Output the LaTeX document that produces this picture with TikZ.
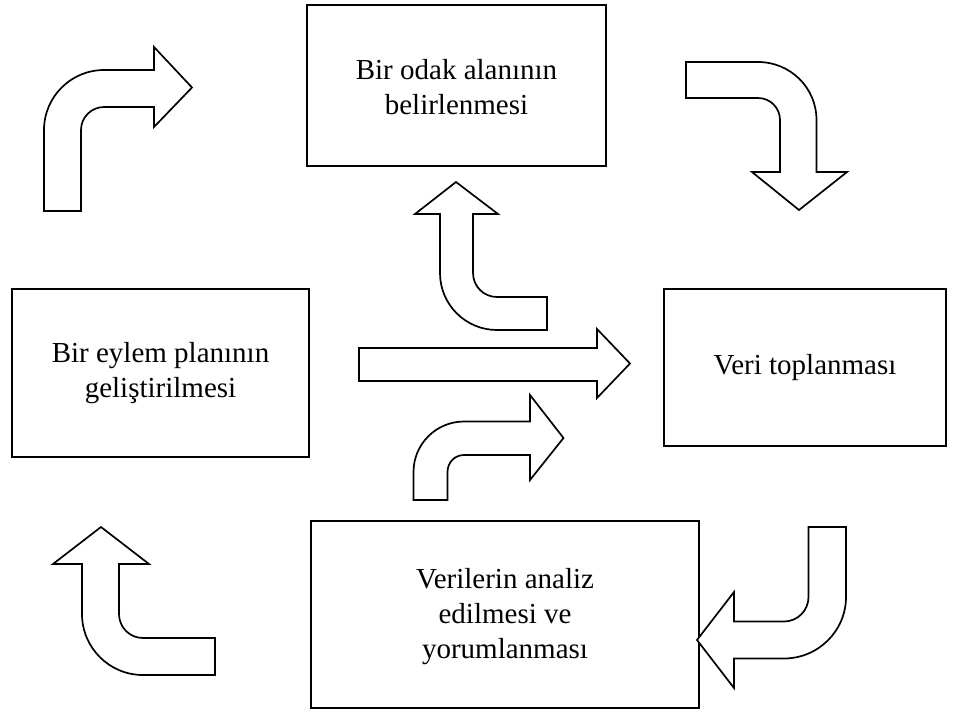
\documentclass[tikz,border=0pt]{standalone}
\usepackage{fontspec}
\setmainfont{Liberation Serif}
\begin{document}
\begin{tikzpicture}[x=1pt,y=-1pt,
  boxnode/.style={draw=black,line width=1.8pt,fill=white,align=center,
    inner sep=0pt,font=\fontsize{29}{35}\selectfont},
  blockarrow/.style={draw=black,line width=1.7pt,fill=white,line join=miter}]
\useasboundingbox (0,0) rectangle (956,713);
\fill[white] (0,0) rectangle (956,713);
% boxes
\node[boxnode,minimum width=299pt,minimum height=161pt] (odak) at (456.5,85.5) {};
\node[font=\fontsize{29}{35}\selectfont,align=center,inner sep=0pt] (odaktxt) at ([yshift=-2pt]odak.center) {Bir odak alanının\\belirlenmesi};
\node[boxnode,minimum width=297pt,minimum height=168pt] (eylem) at (160.5,373) {Bir eylem planının\\geliştirilmesi};
\node[boxnode,minimum width=282pt,minimum height=157pt] (veri) at (805,367.5) {Veri toplanması};
\node[boxnode,minimum width=388pt,minimum height=187pt] (analiz) at (505,614.5) {};
\node[font=\fontsize{29}{35}\selectfont,align=center,inner sep=0pt] (analiztxt) at ([yshift=-2pt]analiz.center) {Verilerin analiz\\edilmesi ve\\yorumlanması};
% arrow 1: top-left (up then right)
\draw[blockarrow] (44,211) -- (44,130) .. controls (44,96.9) and (70.9,70) .. (104,70)
  -- (154,70) -- (154,47) -- (192,87.5) -- (154,127) -- (154,107) -- (104,107)
  .. controls (91.3,107) and (81,117.3) .. (81,130) -- (81,211) -- cycle;
% arrow 2: top-right (right then down)
\draw[blockarrow] (686,62) -- (758,62) .. controls (790.3,62) and (816.5,87.7) .. (816.5,120)
  -- (816.5,172) -- (847,172) -- (799,210) -- (752,172) -- (780,172) -- (780,120)
  .. controls (780,107.8) and (770.2,98) .. (758,98) -- (686,98) -- cycle;
% arrow 3: centre (left then up)
\draw[blockarrow] (547,297) -- (497,297) .. controls (483.7,297) and (473,286.3) .. (473,273)
  -- (473,214) -- (498,214) -- (456,182) -- (415,214) -- (440,214) -- (440,273)
  .. controls (440,304.5) and (465.5,330) .. (497,330) -- (547,330) -- cycle;
% arrow 4: centre-bottom (up then right)
\draw[blockarrow] (413.5,500) -- (413.5,472) .. controls (413.5,444.1) and (436.1,421.5) .. (464,421.5)
  -- (530,421.5) -- (530,395) -- (563.5,438) -- (530,480) -- (530,455) -- (464,455)
  .. controls (454.6,455) and (447.5,462.6) .. (447.5,472) -- (447.5,500) -- cycle;
% arrow 5: bottom-left (left then up)
\draw[blockarrow] (215,638) -- (143,638) .. controls (129.7,638) and (119,627.3) .. (119,614)
  -- (119,564) -- (149,564) -- (101,527) -- (53,564) -- (82,564) -- (82,614)
  .. controls (82,647.7) and (109.3,675) .. (143,675) -- (215,675) -- cycle;
% arrow 6: bottom-right (down then left)
\draw[blockarrow] (808.5,527) -- (846,527) -- (846,597) .. controls (846,631) and (818,658.5) .. (784,658.5)
  -- (734,658.5) -- (734,688) -- (697,640) -- (734,592) -- (734,621.5) -- (784,621.5)
  .. controls (797.5,621.5) and (808.5,610.5) .. (808.5,597) -- cycle;
% straight arrow
\draw[blockarrow] (359,348) -- (597,348) -- (597,329) -- (630,363.5) -- (597,398) -- (597,381) -- (359,381) -- cycle;
\end{tikzpicture}
\end{document}
